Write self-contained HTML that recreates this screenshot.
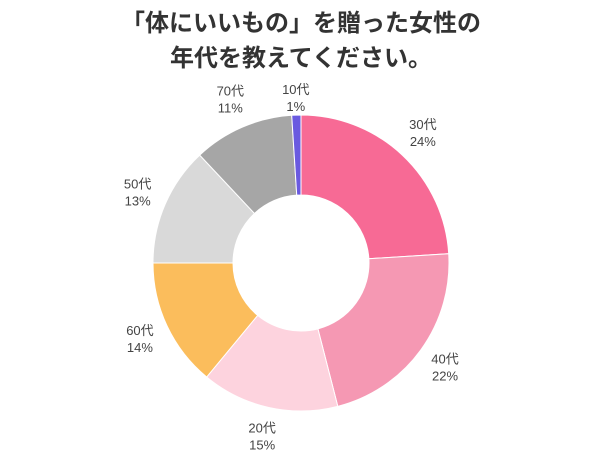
<!DOCTYPE html>
<html><head><meta charset="utf-8"><style>
body{margin:0;background:#fff;}
svg{display:block;font-family:"Liberation Sans","Noto Sans CJK JP",sans-serif;}
</style></head><body>
<svg width="602" height="451" viewBox="0 0 602 451">
<text x="301" y="31" text-anchor="middle" font-size="24" font-weight="bold" fill="#333">「体にいいもの」を贈った女性の</text>
<text x="301" y="66" text-anchor="middle" font-size="24" font-weight="bold" fill="#333">年代を教えてください。</text>
<g id="slices"></g>
<g id="labels"></g>
</svg>
<script>
const categories=["30代","40代","20代","60代","50代","70代","10代"];
const values=[24,22,15,14,13,11,1];
const colors=["#f76a95","#f598b3","#fdd3de","#fbbd5c","#d9d9d9","#a6a6a6","#6a5ae0"];
const cx=301,cy=263,R=148,r=68,LR=178;
const total=values.reduce((a,b)=>a+b,0);
const NS="http://www.w3.org/2000/svg";
const sg=document.getElementById('slices'),lg=document.getElementById('labels');
function pt(rad,a){return [cx+rad*Math.sin(a),cy-rad*Math.cos(a)];}
let acc=0;
values.forEach((v,i)=>{
 const a0=acc/total*2*Math.PI;acc+=v;const a1=acc/total*2*Math.PI;
 const big=(a1-a0)>Math.PI?1:0;
 const [x0,y0]=pt(R,a0),[x1,y1]=pt(R,a1),[x2,y2]=pt(r,a1),[x3,y3]=pt(r,a0);
 const p=document.createElementNS(NS,'path');
 p.setAttribute('d',`M${x0},${y0}A${R},${R} 0 ${big} 1 ${x1},${y1}L${x2},${y2}A${r},${r} 0 ${big} 0 ${x3},${y3}Z`);
 p.setAttribute('fill',colors[i]);p.setAttribute('stroke','#fff');p.setAttribute('stroke-width','1');
 
 
 sg.appendChild(p);
 const am=(a0+a1)/2;const [lx,ly]=pt(i===6?165:LR,am);
 const t=document.createElementNS(NS,'text');
 t.setAttribute('x',lx);t.setAttribute('y',ly-4);t.setAttribute('text-anchor','middle');
 t.setAttribute('font-size','13');t.setAttribute('fill','#444');
 
 
 const s1=document.createElementNS(NS,'tspan');s1.setAttribute('x',lx);s1.textContent=categories[i];
 const s2=document.createElementNS(NS,'tspan');s2.setAttribute('x',lx);s2.setAttribute('dy','17');s2.textContent=v+'%';
 t.appendChild(s1);t.appendChild(s2);lg.appendChild(t);
});
</script>
</body></html>
